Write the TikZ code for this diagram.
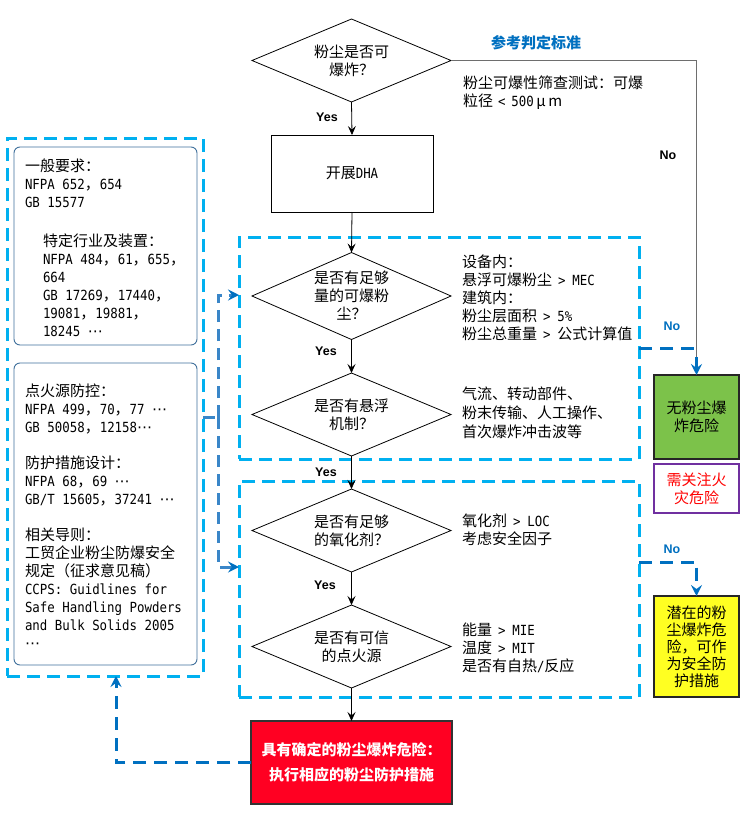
\documentclass[tikz,border=0pt]{standalone}
\usepackage{fontspec}
\setmainfont{Noto Sans CJK SC}
\newfontfamily\monof{DejaVu Sans Mono}[Scale=0.93, FakeStretch=0.89]
\newfontfamily\latb{Liberation Sans}
\newfontfamily\dvs{DejaVu Sans}
\usetikzlibrary{shapes.geometric,arrows.meta,calc}
\newcommand{\en}[1]{{\monof #1}}
\newcommand{\cdotsx}{{\dvs ⋯}}
\newcommand{\gtx}{\hspace{6pt}\en{>}\hspace{7pt}}
\newcommand{\mytxt}{\fontsize{15}{18}\selectfont}
\definecolor{cyanb}{HTML}{00B0F0}
\definecolor{blueb}{HTML}{0070C0}
\definecolor{midb}{HTML}{3A86C8}
\definecolor{panelc}{HTML}{41719C}
\definecolor{greenc}{HTML}{7CC24A}
\definecolor{redc}{HTML}{FF0022}
\definecolor{yellowc}{HTML}{FFFF22}
\definecolor{purplec}{HTML}{7030A0}
\definecolor{greyl}{HTML}{6E6E6E}
\tikzset{
  dia/.style={draw=black, line width=0.8pt, shape=diamond, aspect=2.4, inner sep=0pt, align=center, font=\mytxt, minimum width=199pt, minimum height=83pt},
  flowbox/.style={draw=black, line width=0.8pt, align=center, font=\mytxt},
  grp/.style={draw=cyanb, line width=3pt, dash pattern=on 13pt off 7pt},
  panel/.style={draw=panelc, line width=0.9pt, rounded corners=6pt},
  note/.style={anchor=north west, align=left, font=\mytxt},
  yeslab/.style={font=\latb\bfseries\fontsize{12.5}{14}\selectfont},
  nolab/.style={yeslab, text=blueb},
  flow/.style={draw=black, line width=0.8pt, -{Stealth[length=9pt,width=8pt,inset=3.5pt]}},
  bluedash/.style={draw=blueb, line width=3pt, dash pattern=on 13pt off 8pt},
  middash/.style={draw=midb, line width=3pt, dash pattern=on 12pt off 7pt},
  bluetip/.style={-{Stealth[length=11pt,width=11pt,inset=4pt,color=blueb]}},
}
\begin{document}
\begin{tikzpicture}[x=1pt,y=-1pt, every node/.append style={inner sep=0pt, outer sep=0pt}]
\useasboundingbox[fill=white] (0,0) rectangle (746,833);

% left panel
\node[grp, minimum width=196pt, minimum height=538pt] (lp) at (105,407) {};
\node[panel, minimum width=183pt, minimum height=198pt] (p1) at (105.5,246) {};
\node[panel, minimum width=183pt, minimum height=302pt] (p2) at (105.5,514) {};
\node[note] (ta) at (25,158.5) {一般要求：\\\en{NFPA 652}，\en{654}\\\en{GB 15577}};
\node[note] (tb) at (43,233.5) {特定行业及装置：\\\en{NFPA 484}，\en{61}，\en{655}，\\\en{664}\\\en{GB 17269}，\en{17440}，\\\en{19081}，\en{19881}，\\\en{18245 }\cdotsx};
\node[note] (tc) at (25,383.5) {点火源防控：\\\en{NFPA 499}，\en{70}，\en{77 }\cdotsx\\\en{GB 50058}，\en{12158}\cdotsx\\[18pt]防护措施设计：\\\en{NFPA 68}，\en{69 }\cdotsx\\\en{GB/T 15605}，\en{37241 }\cdotsx\\[18pt]相关导则：\\工贸企业粉尘防爆安全\\规定（征求意见稿）\\\en{CCPS: Guidlines for}\\\en{Safe Handling Powders}\\\en{and Bulk Solids 2005}\\\cdotsx};

% groups
\node[grp, minimum width=400pt, minimum height=222pt] (g1) at (439,348) {};
\node[grp, minimum width=400pt, minimum height=216pt] (g2) at (439,589) {};

% main flow
\node[dia] (d1) at (351.5,60.5) {粉尘是否可\\爆炸？};
\node[flowbox, minimum width=162pt, minimum height=77pt] (dha) at (352,173.5) {开展\en{DHA}};
\node[dia, minimum height=87pt] (d2) at (351.5,296) {是否有足够\\量的可爆粉\\尘？};
\node[dia] (d3) at (351.5,414.5) {是否有悬浮\\机制？};
\node[dia] (d4) at (351.5,530.5) {是否有足够\\的氧化剂？};
\node[dia] (d5) at (351.5,646.5) {是否有可信\\的点火源};
\node[draw=black!80, line width=1.2pt, fill=redc, minimum width=201pt, minimum height=83pt, align=center, text=white, font=\fontsize{15}{25}\selectfont\bfseries] (red) at (351.5,762.5) {具有确定的粉尘爆炸危险：\\执行相应的粉尘防护措施};

% right texts
\node[font=\mytxt\bfseries, text=blueb] (title) at (536,43) {参考判定标准};
\node[note] (t1) at (463,75.5) {粉尘可爆性筛查测试：可爆\\粒径\hspace{5pt}\en{<}\hspace{6pt}\en{500}\,μ\,m};
\node[note] (t2) at (462,254.5) {设备内：\\悬浮可爆粉尘\gtx\en{MEC}\\建筑内：\\粉尘层面积\gtx\en{5\%}\\粉尘总重量\gtx 公式计算值};
\node[note, font=\fontsize{15}{19}\selectfont] (t3) at (462,386.5) {气流、转动部件、\\粉末传输、人工操作、\\首次爆炸冲击波等};
\node[note] (t4) at (462,513.5) {氧化剂\gtx\en{LOC}\\考虑安全因子};
\node[note] (t5) at (462,622.5) {能量\gtx\en{MIE}\\温度\gtx\en{MIT}\\是否有自热\en{/}反应};

% result boxes
\node[draw=black!85, line width=1.3pt, fill=greenc, minimum width=85pt, minimum height=84pt, align=center, font=\mytxt] (safe) at (696.5,417) {无粉尘爆\\炸危险};
\node[draw=purplec, line width=1.2pt, fill=white, minimum width=85pt, minimum height=49pt, align=center, text=red, font=\mytxt] (fire) at (696.5,488.5) {需关注火\\灾危险};
\node[draw=black!85, line width=1.3pt, fill=yellowc, minimum width=85pt, minimum height=101pt, align=center, font=\fontsize{15}{17}\selectfont] (warn) at (696.5,646.5) {潜在的粉\\尘爆炸危\\险，可作\\为安全防\\护措施};

% labels
\node[yeslab] (y1) at (327,117) {Yes};
\node[yeslab] (y2) at (326,351) {Yes};
\node[yeslab] (y3) at (326,472) {Yes};
\node[yeslab] (y4) at (325,585) {Yes};
\node[yeslab] (n0) at (668,155) {No};
\node[nolab] (n1) at (672,326) {No};
\node[nolab] (n2) at (672,549) {No};

% connectors
\draw[flow] (d1.south) -- (dha.north);
\draw[flow] (dha.south) -- (d2.north);
\draw[flow] (d2.south) -- (d3.north);
\draw[flow] (d3.south) -- (d4.north);
\draw[flow] (d4.south) -- (d5.north);
\draw[flow] (d5.south) -- (red.north);

\coordinate (gc) at (696.5,357);
\draw[greyl, line width=1.3pt] (d1.east) -| (gc);
\draw[blueb, line width=2.5pt, bluetip] (gc) -- (safe.north);
\draw[bluedash] (g1.east) -- (g1.east -| gc);

\coordinate (m2a) at (639,562);
\coordinate (m2b) at (696.5,562);
\draw[bluedash, bluetip] (m2a) -- (m2b) -- (warn.north);

\coordinate (s0) at (203,417);
\coordinate (s1) at (218,417);
\coordinate (a1) at (239,295);
\coordinate (a2) at (239,567);
\draw[middash] (s0) -- (s1);
\draw[middash, bluetip] (s1) |- (a1);
\draw[middash, bluetip] (s1) |- (a2);

\draw[bluedash, bluetip] (red.west) -| ([xshift=11pt]lp.south);
\end{tikzpicture}
\end{document}
